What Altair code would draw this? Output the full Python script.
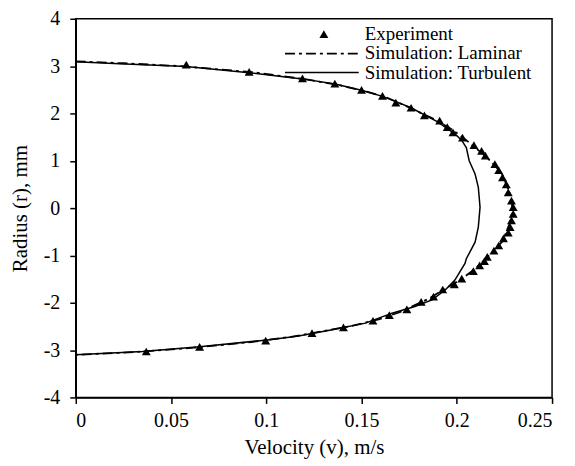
import altair as alt
import pandas as pd

# Experiment (triangles): radius r [mm], velocity v [m/s]
exp_r = [3.03, 2.88, 2.74, 2.63, 2.50, 2.37, 2.23, 2.12, 1.96, 1.85, 1.71, 1.60, 1.49,
         1.33, 1.21, 1.11, 0.93, 0.80, 0.65, 0.50, 0.33, 0.16, 0.02, -0.12, -0.26, -0.40,
         -0.52, -0.64, -0.79, -0.90, -1.03, -1.12, -1.21, -1.33, -1.49, -1.61, -1.72,
         -1.87, -1.98, -2.14, -2.26, -2.38, -2.52, -2.64, -2.80, -2.93, -3.03]
exp_v = [0.058, 0.091, 0.119, 0.136, 0.150, 0.161, 0.168, 0.176, 0.183, 0.191, 0.195, 0.198, 0.203,
         0.209, 0.213, 0.215, 0.220, 0.222, 0.224, 0.226, 0.227, 0.2287, 0.2296, 0.2296, 0.2287, 0.228,
         0.227, 0.2245, 0.222, 0.2195, 0.216, 0.2145, 0.212, 0.2087, 0.2026, 0.1987, 0.1926,
         0.1878, 0.1813, 0.1738, 0.1646, 0.156, 0.1405, 0.124, 0.0997, 0.065, 0.037]

# Simulation: Laminar (dash-dot)
lam_r = [3.10, 3.06, 3.00, 2.87, 2.72, 2.60, 2.47, 2.34, 2.20, 2.05, 1.90, 1.70, 1.50, 1.30,
         1.10, 0.90, 0.70, 0.50, 0.30, 0.10, -0.10, -0.30, -0.50, -0.70, -0.90, -1.10, -1.30,
         -1.50, -1.70, -1.90, -2.05, -2.20, -2.35, -2.48, -2.60, -2.72, -2.83, -2.95, -3.04, -3.10]
lam_v = [0.0, 0.025, 0.055, 0.093, 0.121, 0.138, 0.152, 0.163, 0.171, 0.179, 0.187, 0.196, 0.203, 0.209,
         0.215, 0.220, 0.224, 0.226, 0.228, 0.229, 0.229, 0.228, 0.226, 0.224, 0.2195, 0.2145, 0.209,
         0.2025, 0.194, 0.186, 0.178, 0.170, 0.159, 0.146, 0.130, 0.113, 0.092, 0.062, 0.032, 0.0]

# Simulation: Turbulent (solid)
turb_r = [3.09, 3.05, 2.99, 2.86, 2.73, 2.62, 2.49, 2.36, 2.25, 2.12, 1.97, 1.82, 1.68, 1.57,
          1.43, 1.28, 1.00, 0.72, 0.44, 0.02, -0.40, -0.72, -1.07, -1.17, -1.52, -1.73, -1.94,
          -2.08, -2.22, -2.43, -2.57, -2.70, -2.79, -2.93, -3.03, -3.10]
turb_v = [0.0, 0.023, 0.058, 0.091, 0.119, 0.136, 0.150, 0.161, 0.168, 0.176, 0.183, 0.190, 0.195, 0.199,
          0.2026, 0.205, 0.2065, 0.2096, 0.2113, 0.2122, 0.2113, 0.2096, 0.2050, 0.2043, 0.1990, 0.1939, 0.1870,
          0.1780, 0.1660, 0.1520, 0.1346, 0.1170, 0.0997, 0.065, 0.035, 0.0]

x_ticks = [0, 0.05, 0.1, 0.15, 0.2, 0.25]
y_ticks = [-4, -3, -2, -1, 0, 1, 2, 3, 4]

legend_labels = ["Experiment", "Simulation: Laminar", "Simulation: Turbulent"]

FONT = "Liberation Serif"

exp_df = pd.DataFrame({"v": exp_v, "r": exp_r})
lam_df = pd.DataFrame({"v": lam_v, "r": lam_r, "i": list(range(len(lam_r)))})
turb_df = pd.DataFrame({"v": turb_v, "r": turb_r, "i": list(range(len(turb_r)))})

xenc = alt.X("v:Q", scale=alt.Scale(domain=[0, 0.25], nice=False, zero=False),
             axis=alt.Axis(values=x_ticks, labelExpr="'' + datum.value",
                           title="Velocity (v), m/s"))
yenc = alt.Y("r:Q", scale=alt.Scale(domain=[-4, 4], nice=False, zero=False),
             axis=alt.Axis(values=y_ticks, labelExpr="'' + datum.value",
                           title="Radius (r), mm"))

turb = alt.Chart(turb_df).mark_line(color="black", strokeWidth=1.5).encode(
    x=xenc, y=yenc, order=alt.Order("i:Q"))
lam = alt.Chart(lam_df).mark_line(color="black", strokeWidth=1.8, strokeDash=[10, 4, 3, 4]).encode(
    x=xenc, y=yenc, order=alt.Order("i:Q"))
pts = alt.Chart(exp_df).mark_point(shape="triangle-up", filled=True, size=80,
                                   color="black", opacity=1).encode(x=xenc, y=yenc)

# legend (drawn inside plot, top right)
leg_df = pd.DataFrame({"label": legend_labels, "ypx": [15, 34.5, 54]})
leg_text = alt.Chart(leg_df).mark_text(align="left", baseline="middle", font=FONT,
                                       fontSize=19, color="black").encode(
    x=alt.value(290), y=alt.Y("ypx:Q", scale=None), text="label:N")
leg_tri = alt.Chart(leg_df.iloc[:1]).mark_point(shape="triangle-up", filled=True, size=80,
                                                color="black", opacity=1).encode(
    x=alt.value(249), y=alt.value(15.5))
leg_lam = alt.Chart(leg_df.iloc[:1]).mark_rule(color="black", strokeWidth=1.8,
                                               strokeDash=[10, 4, 3, 4]).encode(
    x=alt.value(210), x2=alt.value(284), y=alt.value(35))
leg_turb = alt.Chart(leg_df.iloc[:1]).mark_rule(color="black", strokeWidth=1.5).encode(
    x=alt.value(210), x2=alt.value(284), y=alt.value(54))

chart = alt.layer(lam, turb, pts, leg_lam, leg_turb, leg_tri, leg_text).properties(
    width=478, height=380,
    autosize=alt.AutoSizeParams(type="none"),
    padding={"left": 68, "top": 10, "right": 15, "bottom": 66},
    background="white",
).configure_view(
    stroke="black", strokeWidth=1.5
).configure_axis(
    grid=False, domainColor="black", domainWidth=1.5, tickColor="black", tickWidth=1.5,
    tickSize=6, labelFont=FONT, labelFontSize=20, labelColor="black",
    titleFont=FONT, titleFontSize=21, titleFontWeight="normal", titleColor="black",
).configure_axisX(titlePadding=6, labelPadding=7).configure_axisY(titlePadding=13, labelPadding=10)

chart.save("out.html", embed_options={"renderer": "svg", "actions": False})
